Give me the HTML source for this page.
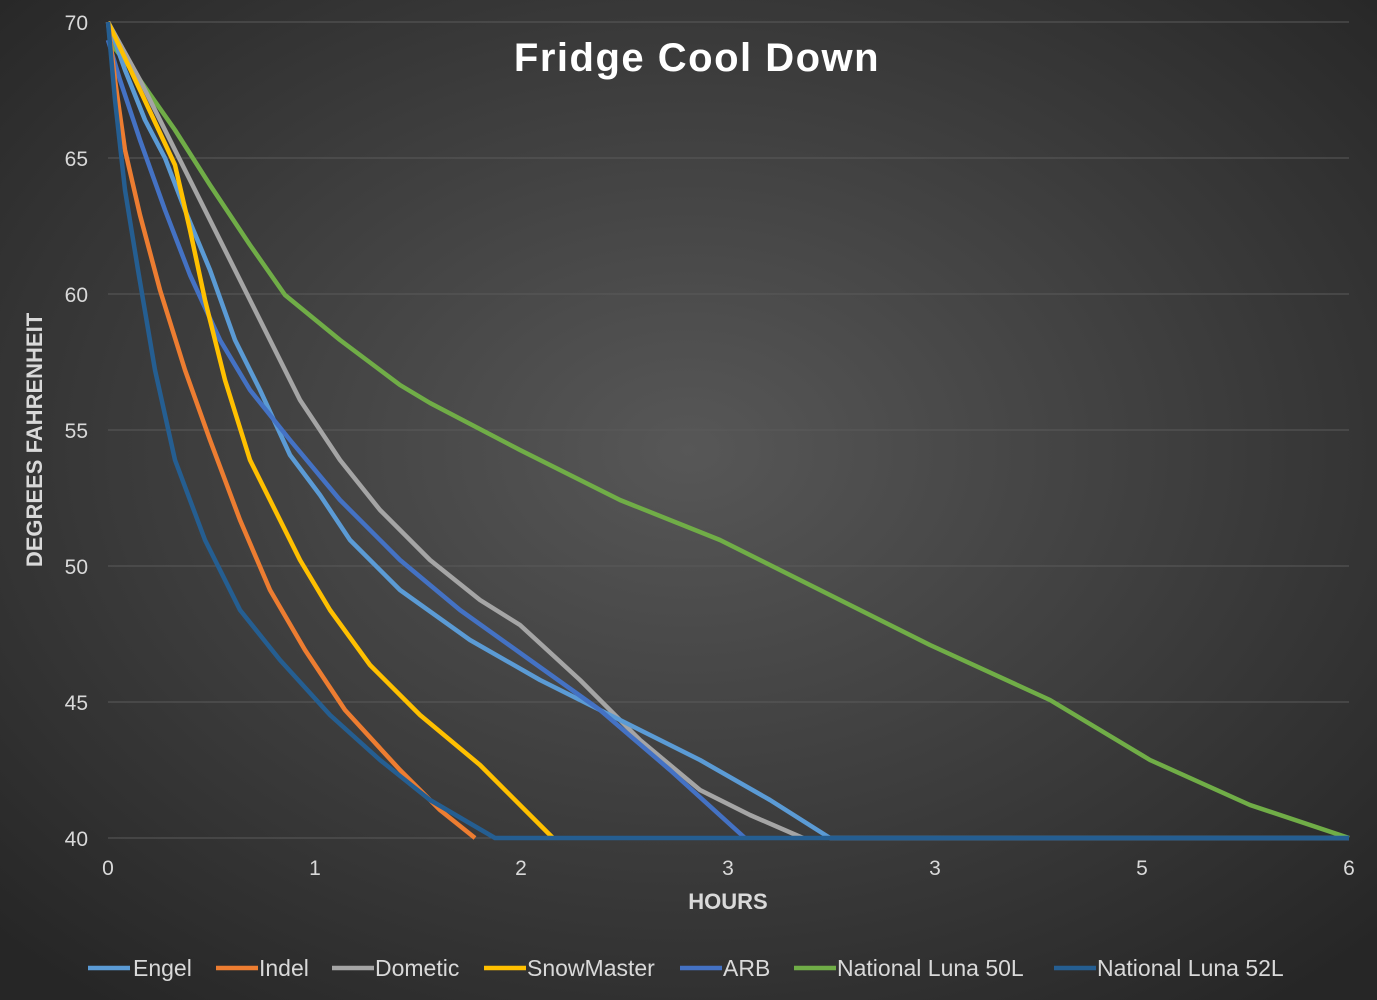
<!DOCTYPE html>
<html><head><meta charset="utf-8"><style>
html,body{margin:0;padding:0;width:1377px;height:1000px;overflow:hidden;background:#2b2b2b}
</style></head><body>
<svg width="1377" height="1000" xmlns="http://www.w3.org/2000/svg" font-family="Liberation Sans, sans-serif">
<defs><radialGradient id="bg" cx="50%" cy="45%" r="70%">
<stop offset="0" stop-color="#575757"/><stop offset="1" stop-color="#262626"/></radialGradient></defs>
<rect width="1377" height="1000" fill="url(#bg)"/>
<g stroke="#5a5a5a" stroke-width="1">
<line x1="108" y1="22" x2="1349" y2="22"/><line x1="108" y1="158" x2="1349" y2="158"/>
<line x1="108" y1="294" x2="1349" y2="294"/><line x1="108" y1="430" x2="1349" y2="430"/>
<line x1="108" y1="566" x2="1349" y2="566"/><line x1="108" y1="702" x2="1349" y2="702"/>
<line x1="108" y1="838" x2="1349" y2="838"/></g>
<g fill="#d9d9d9" font-size="21" text-anchor="end">
<text x="88" y="30">70</text><text x="88" y="166">65</text><text x="88" y="302">60</text>
<text x="88" y="438">55</text><text x="88" y="574">50</text><text x="88" y="710">45</text><text x="88" y="846">40</text></g>
<g fill="#d9d9d9" font-size="21" text-anchor="middle">
<text x="108" y="875">0</text><text x="315" y="875">1</text><text x="521" y="875">2</text>
<text x="728" y="875">3</text><text x="935" y="875">3</text><text x="1142" y="875">5</text><text x="1349" y="875">6</text></g>
<text x="728" y="909" fill="#d9d9d9" font-size="22" font-weight="bold" text-anchor="middle">HOURS</text>
<text transform="translate(42,440) rotate(-90)" fill="#d9d9d9" font-size="22" font-weight="bold" text-anchor="middle">DEGREES FAHRENHEIT</text>
<text x="697" y="71" fill="#fff" font-size="40" font-weight="bold" text-anchor="middle" letter-spacing="1.5">Fridge Cool Down</text>
<g fill="none" stroke-width="4.5" stroke-linejoin="round">
<polyline stroke="#70AD47" points="108,40 140,80 175,130 210,185 250,245 285,295 340,340 400,385 430,403 520,450 620,500 720,540 820,590 930,645 1050,700 1150,760 1250,805 1349,838"/>
<polyline stroke="#A5A5A5" points="108,22 140,80 175,150 200,200 235,270 270,340 300,400 340,460 380,510 430,560 480,600 520,625 580,680 640,740 700,790 750,815 803,838"/>
<polyline stroke="#5B9BD5" points="108,22 125,70 145,120 165,158 185,210 210,270 235,340 260,390 290,455 320,495 350,540 400,590 470,640 540,680 620,720 700,760 770,800 830,838 1349,838"/>
<polyline stroke="#4472C4" points="108,40 120,80 140,140 165,210 190,275 220,340 250,390 290,440 340,500 400,560 460,610 530,660 600,710 670,770 745,838"/>
<polyline stroke="#FFC000" points="108,22 140,90 175,165 190,230 205,300 225,380 250,460 275,510 300,560 330,610 370,665 420,715 480,765 553,838"/>
<polyline stroke="#ED7D31" points="108,22 115,80 125,150 140,215 160,290 185,370 210,440 240,520 270,590 305,650 345,710 400,770 440,810 475,838"/>
<polyline stroke="#255E91" points="108,22 115,100 125,190 138,270 155,370 175,460 205,540 240,610 280,660 330,715 380,760 430,800 495,838 1349,838"/>
</g>
<g font-size="23" fill="#d9d9d9" stroke-width="4.5">
<line x1="88" y1="968" x2="130" y2="968" stroke="#5B9BD5"/><text x="133" y="976">Engel</text>
<line x1="216" y1="968" x2="258" y2="968" stroke="#ED7D31"/><text x="259" y="976">Indel</text>
<line x1="332" y1="968" x2="374" y2="968" stroke="#A5A5A5"/><text x="375" y="976">Dometic</text>
<line x1="484" y1="968" x2="526" y2="968" stroke="#FFC000"/><text x="527" y="976">SnowMaster</text>
<line x1="680" y1="968" x2="722" y2="968" stroke="#4472C4"/><text x="723" y="976">ARB</text>
<line x1="794" y1="968" x2="836" y2="968" stroke="#70AD47"/><text x="837" y="976">National Luna 50L</text>
<line x1="1054" y1="968" x2="1096" y2="968" stroke="#255E91"/><text x="1097" y="976">National Luna 52L</text>
</g>
</svg>
</body></html>
